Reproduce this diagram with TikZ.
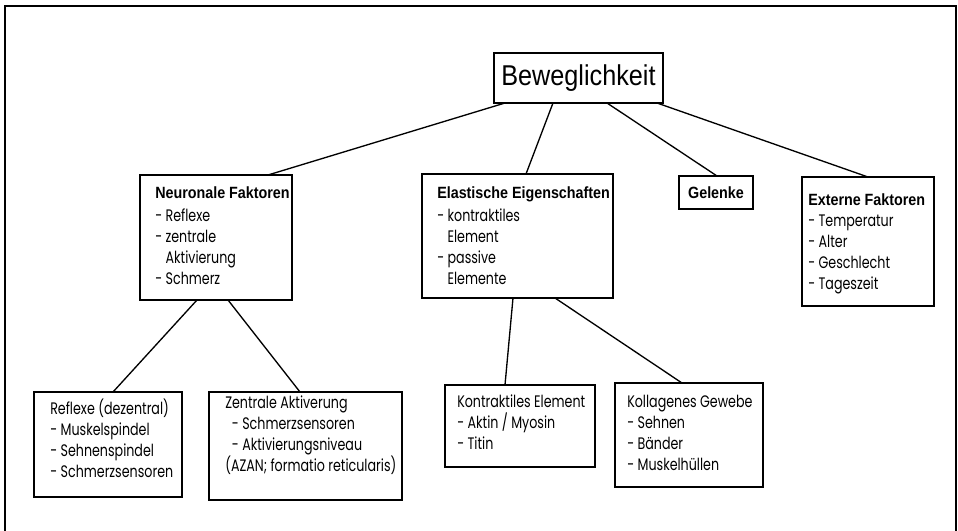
\documentclass[tikz,border=0pt]{standalone}
\usepackage{fontspec}
\setmainfont{Liberation Sans}
\newfontfamily\gothic[FakeStretch=0.76]{Poppins}
\newfontfamily\arialc[FakeStretch=0.88]{Liberation Sans}
\usetikzlibrary{calc,fit}
\begin{document}
\begin{tikzpicture}[x=0.75pt,y=-0.75pt,
  box/.style={draw=black, line width=1.3pt, inner sep=0pt, outer sep=0pt},
  conn/.style={draw=black, line width=1pt},
  lst/.style={anchor=north west, inner sep=0pt, align=left,
    font=\gothic\fontsize{12.5}{15.75}\selectfont},
  headfont/.style={font=\arialc\bfseries\fontsize{12.2}{15}\selectfont, inner sep=0pt}
]
\useasboundingbox (0,0) rectangle (958,531);
\clip (0,0) rectangle (958,531);
\fill[white] (0,0) rectangle (958,531);
% outer frame
\draw[line width=2.2pt] (5,540) -- (5,6) -- (956,6) -- (956,540);

% boxes
\node[box, fit={(494,53) (663,103)}] (bew) {};
\node[font=\arialc\fontsize{21.5}{24}\selectfont, inner sep=0pt] (bewt) at (bew.center) {Beweglichkeit};

\node[box, fit={(140,175) (292,300)}] (neu) {};
\node[box, fit={(422,174) (613,298)}] (ela) {};
\node[box, fit={(679,176) (753,209)}] (gel) {};
\node[box, fit={(802,177) (934,306)}] (ext) {};
\node[box, fit={(34,392) (182,497)}] (ref) {};
\node[box, fit={(209,392) (402,500)}] (zen) {};
\node[box, fit={(445,385) (595,467)}] (kon) {};
\node[box, fit={(615,383) (763,487)}] (kol) {};

% texts
\node[lst] (neut) at (155,186) {{\arialc\bfseries\fontsize{12.2}{15}\selectfont Neuronale Faktoren}\\[2pt]
- Reflexe\\
- zentrale\\
\phantom{- }Aktivierung\\
- Schmerz};

\node[lst] (elat) at (437,186) {{\arialc\bfseries\fontsize{12.2}{15}\selectfont Elastische Eigenschaften}\\[2pt]
- kontraktiles\\
\phantom{- }Element\\
- passive\\
\phantom{- }Elemente};

\node[headfont] (gelt) at (gel.center) {Gelenke};

\node[lst] (extt) at (808,193) {{\arialc\bfseries\fontsize{12.2}{15}\selectfont Externe Faktoren}\\
- Temperatur\\
- Alter\\
- Geschlecht\\
- Tageszeit};

\node[lst] (reft) at (50,399) {Reflexe (dezentral)\\
- Muskelspindel\\
- Sehnenspindel\\
- Schmerzsensoren};

\node[lst] (zent) at (225,396) {Zentrale Aktiverung\\
\hspace{5pt}- Schmerzsensoren\\
\hspace{5pt}- Aktivierungsniveau\\
(AZAN; formatio reticularis)};

\node[lst] (kont) at (457,395) {Kontraktiles Element\\
- Aktin / Myosin\\
- Titin};

\node[lst] (kolt) at (627,395) {Kollagenes Gewebe\\
- Sehnen\\
- Bänder\\
- Muskelhüllen};

% connectors
\draw[conn] ($(bew.south west)+(11,0)$) -- ($(neu.north west)+(128,0)$);
\draw[conn] ($(bew.south west)+(59,0)$) -- ($(ela.north west)+(104,0)$);
\draw[conn] ($(bew.south west)+(113,0)$) -- ($(gel.north west)+(38,0)$);
\draw[conn] ($(bew.south west)+(163,0)$) -- ($(ext.north west)+(66,0)$);

\draw[conn] ($(neu.south west)+(57,0)$) -- ($(ref.north west)+(79,0)$);
\draw[conn] ($(neu.south west)+(88,0)$) -- ($(zen.north west)+(91,0)$);

\draw[conn] ($(ela.south west)+(91,0)$) -- ($(kon.north west)+(60,0)$);
\draw[conn] ($(ela.south west)+(133,0)$) -- ($(kol.north west)+(67,0)$);
\end{tikzpicture}
\end{document}
